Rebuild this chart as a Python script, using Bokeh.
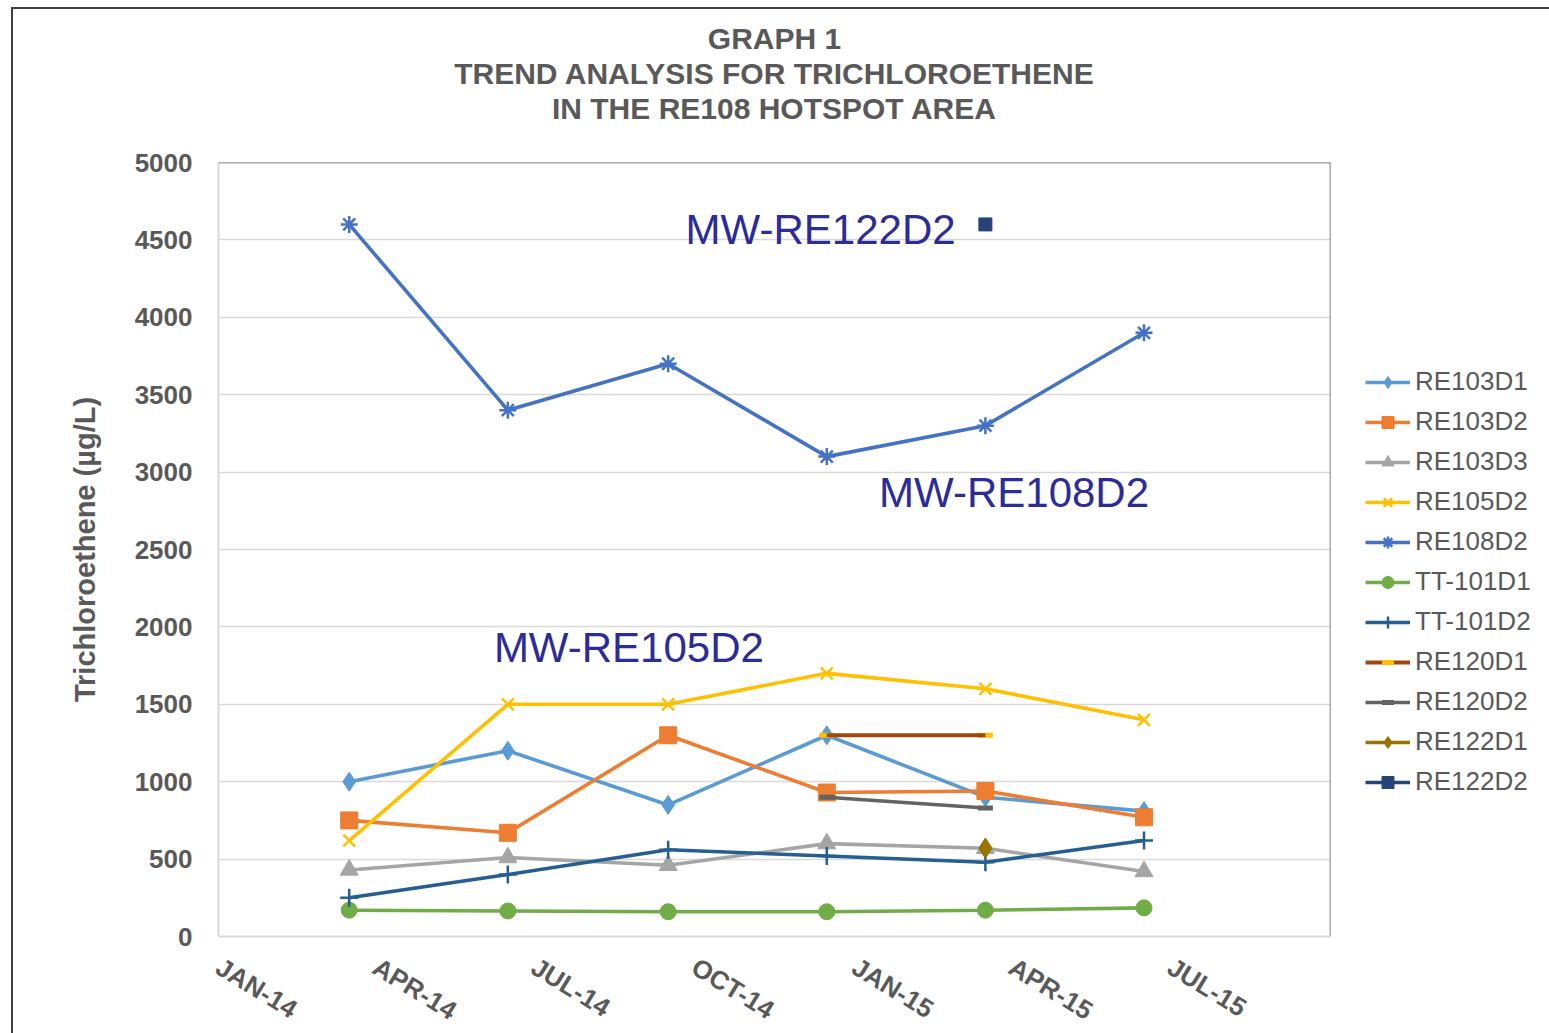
import pandas as pd
from bokeh.plotting import figure
from bokeh.models import FixedTicker, Range1d, Legend, LegendItem, Label, Span, Title
from bokeh.embed import file_html
from bokeh.resources import INLINE

# ---------------- data ----------------
dates = ["2014-03-17", "2014-06-16", "2014-09-16", "2014-12-16", "2015-03-17", "2015-06-16"]
re103d1 = [1000, 1200, 850, 1300, 900, 810]
re103d2 = [750, 670, 1300, 930, 940, 770]
re103d3 = [430, 510, 460, 600, 570, 420]
re105d2 = [620, 1500, 1500, 1700, 1600, 1400]
re108d2 = [4600, 3400, 3700, 3100, 3300, 3900]
tt101d1 = [170, 165, 160, 160, 170, 185]
tt101d2 = [250, 400, 560, 520, 480, 620]
re120_dates = ["2014-12-16", "2015-03-17"]
re120d1 = [1300, 1300]
re120d2 = [900, 830]
re122_dates = ["2015-03-17"]
re122d1 = [570]
re122d2 = [4600]

tick_dates = ["2014-01-01", "2014-04-01", "2014-07-01", "2014-10-01",
              "2015-01-01", "2015-04-01", "2015-07-01"]
tick_labels = ["JAN-14", "APR-14", "JUL-14", "OCT-14", "JAN-15", "APR-15", "JUL-15"]
x_start, x_end = "2014-01-01", "2015-10-01"
y_ticks = [0, 500, 1000, 1500, 2000, 2500, 3000, 3500, 4000, 4500, 5000]
y_max = 5000

annotations = [("MW-RE122D2", "2014-09-26", 4570),
               ("MW-RE108D2", "2015-01-15", 2870),
               ("MW-RE105D2", "2014-06-08", 1870)]

title_lines = ["GRAPH 1", "TREND ANALYSIS FOR TRICHLOROETHENE", "IN THE RE108 HOTSPOT AREA"]


def ms(d):
    return pd.Timestamp(d).value // 10**6


def msl(ds):
    return [ms(d) for d in ds]


GREY = "#595959"
FONT = "Liberation Sans"

p = figure(frame_width=1112, frame_height=774,
           x_range=Range1d(ms(x_start), ms(x_end)), y_range=Range1d(0, y_max),
           output_backend="svg", toolbar_location=None,
           min_border_left=205, min_border_right=200, min_border_top=153, min_border_bottom=95)
p.title = None
p.outline_line_color = None
p.background_fill_color = "white"
p.border_fill_color = "white"
p.styles = {"margin-left": "11px", "margin-top": "7px",
            "border-left": "2px solid #404040", "border-top": "2px solid #404040"}

# titles (first added is closest to frame); a blank spacer keeps the gap above the frame
p.add_layout(Title(text=" ", text_font=FONT, text_font_size="20px", standoff=14), "above")
for t in reversed(title_lines):
    p.add_layout(Title(text=t, align="center", text_font=FONT, standoff=0,
                       text_font_size="30px", text_font_style="bold",
                       text_color=GREY), "above")

# axes
xa = p.xaxis[0]
xa.ticker = FixedTicker(ticks=msl(tick_dates))
xa.major_label_overrides = {ms(d): lab for d, lab in zip(tick_dates, tick_labels)}
xa.major_label_orientation = -0.55
xa.major_label_text_font = FONT
xa.major_label_text_font_size = "26px"
xa.major_label_text_font_style = "bold"
xa.major_label_text_color = GREY
xa.major_tick_line_color = None
xa.minor_tick_line_color = None
xa.axis_line_color = "#d9d9d9"
xa.axis_line_width = 2
xa.major_label_standoff = 22

ya = p.yaxis[0]
ya.ticker = FixedTicker(ticks=y_ticks)
ya.major_label_text_font = FONT
ya.major_label_text_font_size = "26px"
ya.major_label_text_font_style = "bold"
ya.major_label_text_color = GREY
ya.major_tick_line_color = None
ya.minor_tick_line_color = None
ya.axis_line_color = "#d9d9d9"
ya.axis_line_width = 2
ya.major_label_standoff = 20
ya.axis_label = "Trichloroethene (\u00b5g/L)"
ya.axis_label_text_font = FONT
ya.axis_label_text_font_size = "29px"
ya.axis_label_text_font_style = "bold"
ya.axis_label_text_color = GREY
ya.axis_label_standoff = 31

p.xgrid.grid_line_color = None
p.ygrid.grid_line_color = "#d9d9d9"
p.ygrid.grid_line_width = 1.5

p.add_layout(Span(location=y_max, dimension="width", line_color=GREY, line_width=1.5))
p.add_layout(Span(location=ms(x_end), dimension="height", line_color=GREY, line_width=1.5))

LW = 3.6
items = []


def series(name, ds, vals, color, marker, size, mcolor=None, line_on_top=False):
    xs = msl(ds)
    mc = mcolor or color
    mlw = 2.5 if marker in ("x", "asterisk", "cross") else (5 if marker == "dash" else 1)
    if line_on_top:
        m = p.scatter(xs, vals, marker=marker, size=size, fill_color=mc,
                      line_color=mc, line_width=mlw)
        ln = p.line(xs, vals, line_color=color, line_width=LW + 0.5)
    else:
        ln = p.line(xs, vals, line_color=color, line_width=LW)
        m = p.scatter(xs, vals, marker=marker, size=size, fill_color=mc,
                      line_color=mc, line_width=mlw)
    items.append(LegendItem(label=name, renderers=[ln, m]))


series("RE103D1", dates, re103d1, "#5B9BD5", "diamond", 19)
series("RE103D2", dates, re103d2, "#ED7D31", "square", 17)
series("RE103D3", dates, re103d3, "#A5A5A5", "triangle", 18)
series("RE105D2", dates, re105d2, "#FFC000", "x", 17)
series("RE108D2", dates, re108d2, "#4472C4", "asterisk", 17)
series("TT-101D1", dates, tt101d1, "#70AD47", "circle", 16)
series("TT-101D2", dates, tt101d2, "#255E91", "cross", 18)
series("RE120D1", re120_dates, re120d1, "#9E480E", "dash", 15, mcolor="#FFC000", line_on_top=True)
series("RE120D2", re120_dates, re120d2, "#636363", "dash", 15)
series("RE122D1", re122_dates, re122d1, "#997300", "diamond", 20)
series("RE122D2", re122_dates, re122d2, "#264478", "square", 13)

for text, d, yv in annotations:
    p.add_layout(Label(x=ms(d), y=yv, text=text, text_font=FONT, text_font_size="42px",
                       text_color="#2B2B99", text_baseline="middle", text_align="left"))

legend = Legend(items=items, location="top_left", border_line_color=None,
                background_fill_alpha=0, glyph_width=45, glyph_height=30,
                label_height=30, spacing=9, label_standoff=5, padding=0, margin=35,
                title=" ", title_text_font_size="10px", title_standoff=158,
                label_text_font=FONT, label_text_font_size="26px", label_text_color=GREY)
p.add_layout(legend, "right")

open("out.html", "w").write(file_html(p, INLINE))
